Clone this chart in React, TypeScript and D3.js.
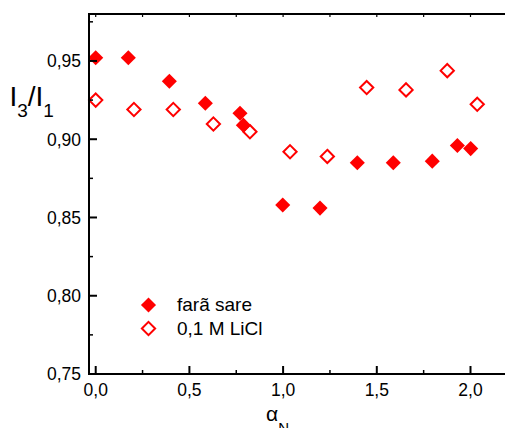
import React from "react";
import * as d3 from "d3";

const seriesNames = ["farã sare", "0,1 M LiCl"];

const saltFreeX = [0.0, 0.174, 0.393, 0.585, 0.77, 0.788, 0.998, 1.197, 1.396, 1.588, 1.796, 1.93, 2.001];
const saltFreeY = [0.952, 0.952, 0.937, 0.923, 0.9166, 0.909, 0.858, 0.856, 0.885, 0.885, 0.886, 0.896, 0.894];

const liclX = [0.0, 0.204, 0.414, 0.628, 0.823, 1.037, 1.236, 1.446, 1.656, 1.876, 2.036];
const liclY = [0.925, 0.919, 0.919, 0.9097, 0.9048, 0.892, 0.889, 0.933, 0.9315, 0.9438, 0.9223];

const xMajorTicks = [0, 0.5, 1.0, 1.5, 2.0];
const xTickLabels = ["0,0", "0,5", "1,0", "1,5", "2,0"];
const xMinorTicks = [0.25, 0.75, 1.25, 1.75];
const yMajorTicks = [0.75, 0.8, 0.85, 0.9, 0.95];
const yTickLabels = ["0,75", "0,80", "0,85", "0,90", "0,95"];
const yMinorTicks = [0.775, 0.825, 0.875, 0.925, 0.975];

const RED = "#ff0000";
const FONT = "'Liberation Sans', Arial, Helvetica, sans-serif";

export default function App() {
  const W = 505;
  const H = 428;
  const left = 89;
  const right = 515;
  const top = 14;
  const bottom = 374;

  const x = d3.scaleLinear().domain([-0.0358, 2.2375]).range([left, right]);
  const y = d3.scaleLinear().domain([0.75, 0.98]).range([bottom, top]);

  const filledDiamond = d3.symbol().type(d3.symbolDiamond2).size(145)();
  const openDiamond = d3.symbol().type(d3.symbolDiamond2).size(112)();

  const saltFree = saltFreeX.map((v, i) => [v, saltFreeY[i]]);
  const licl = liclX.map((v, i) => [v, liclY[i]]);

  return (
    <svg
      width={W}
      height={H}
      style={{ position: "absolute", left: 0, top: 0, background: "#fff" }}
      fontFamily={FONT}
    >
      <rect x={0} y={0} width={W} height={H} fill="#fff" />

      {/* data */}
      {licl.map((d, i) => (
        <path
          key={"o" + i}
          d={openDiamond as string}
          transform={`translate(${x(d[0])},${y(d[1])})`}
          fill="#fff"
          stroke={RED}
          strokeWidth={2}
        />
      ))}
      {saltFree.map((d, i) => (
        <path
          key={"f" + i}
          d={filledDiamond as string}
          transform={`translate(${x(d[0])},${y(d[1])})`}
          fill={RED}
        />
      ))}

      {/* axes frame */}
      <line x1={left} x2={right} y1={top} y2={top} stroke="#000" strokeWidth={2} />
      <line x1={left} x2={right} y1={bottom} y2={bottom} stroke="#000" strokeWidth={2} />
      <line x1={left} x2={left} y1={top - 1} y2={bottom + 1} stroke="#000" strokeWidth={2} />

      {/* bottom ticks */}
      {xMajorTicks.map((t, i) => (
        <g key={"xm" + i}>
          <line x1={x(t)} x2={x(t)} y1={bottom} y2={bottom - 8} stroke="#000" strokeWidth={2} />
          <text x={x(t)} y={396} fontSize={17.5} textAnchor="middle" fill="#000">
            {xTickLabels[i]}
          </text>
        </g>
      ))}
      {xMinorTicks.map((t, i) => (
        <line key={"xn" + i} x1={x(t)} x2={x(t)} y1={bottom} y2={bottom - 4} stroke="#000" strokeWidth={1.5} />
      ))}
      {/* top ticks */}
      {[...xMajorTicks, ...xMinorTicks].map((t, i) => (
        <line key={"xt" + i} x1={x(t)} x2={x(t)} y1={top} y2={top + 3} stroke="#000" strokeWidth={1.2} />
      ))}

      {/* left ticks */}
      {yMajorTicks.map((t, i) => (
        <g key={"ym" + i}>
          <line x1={left} x2={left + 8} y1={y(t)} y2={y(t)} stroke="#000" strokeWidth={2} />
          <text x={81} y={y(t)} dy="0.36em" fontSize={17.5} textAnchor="end" fill="#000">
            {yTickLabels[i]}
          </text>
        </g>
      ))}
      {yMinorTicks.map((t, i) => (
        <line key={"yn" + i} x1={left} x2={left + 4} y1={y(t)} y2={y(t)} stroke="#000" strokeWidth={1.5} />
      ))}

      {/* y title */}
      <text x={9.4} y={106} fontSize={28} fill="#000">
        <tspan>I</tspan>
        <tspan fontSize={19} dy={11}>3</tspan>
        <tspan dy={-11}>/I</tspan>
        <tspan fontSize={19} dy={11}>1</tspan>
      </text>

      {/* x title */}
      <text x={266} y={421} fontSize={21} fill="#000">
        <tspan>α</tspan>
        <tspan fontSize={15} dy={12}>N</tspan>
      </text>

      {/* legend */}
      <path d={filledDiamond as string} transform={`translate(148.5,305)`} fill={RED} />
      <text x={177} y={311} fontSize={19} fill="#000">{seriesNames[0]}</text>
      <path
        d={openDiamond as string}
        transform={`translate(148.5,328.5)`}
        fill="#fff"
        stroke={RED}
        strokeWidth={2}
      />
      <text x={177} y={335} fontSize={19} fill="#000">{seriesNames[1]}</text>
    </svg>
  );
}
